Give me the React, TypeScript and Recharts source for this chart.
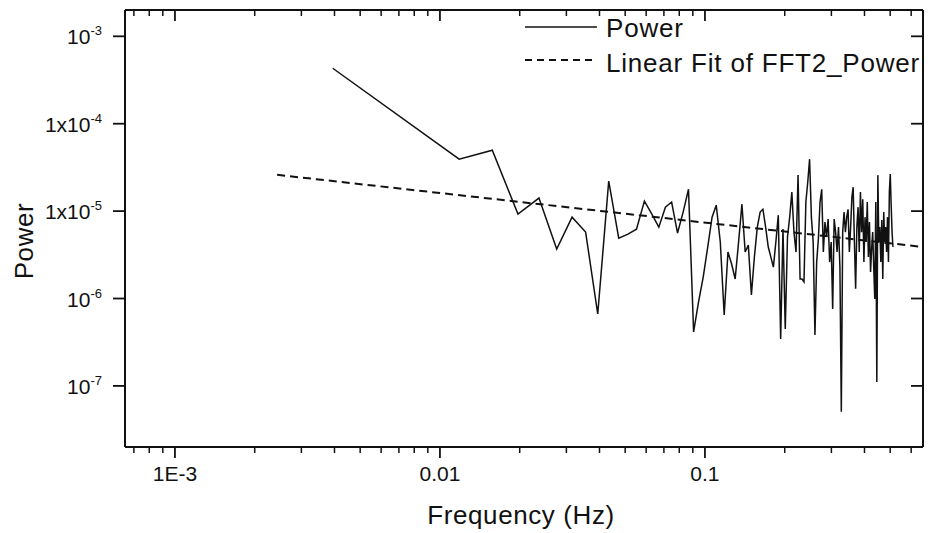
import React from 'react';
import { LineChart, Line, XAxis, YAxis, Legend, Label } from 'recharts';

// FFT bin frequencies (Hz)
const freqs = [
  0.00394, 0.01182, 0.01576, 0.0197, 0.02364, 0.02758, 0.03152, 0.03546, 0.0394,
  0.04334, 0.04728, 0.05122, 0.05516, 0.0591, 0.06304, 0.06698, 0.07092, 0.07486, 0.0788,
  0.08274, 0.08668, 0.09062, 0.09456, 0.0985, 0.10244, 0.10638, 0.11032, 0.11426, 0.1182,
  0.12214, 0.12608, 0.13002, 0.13396, 0.1379, 0.14184, 0.14578, 0.14972, 0.15366, 0.1576,
  0.16154, 0.16548, 0.16942, 0.17336, 0.1773, 0.18124, 0.18518, 0.18912, 0.19306, 0.197,
  0.20094, 0.20488, 0.20882, 0.21276, 0.2167, 0.22064, 0.22458, 0.22852, 0.23246, 0.2364,
  0.24034, 0.24428, 0.24822, 0.25216, 0.2561, 0.26004, 0.26398, 0.26792, 0.27186, 0.2758,
  0.27974, 0.28368, 0.28762, 0.29156, 0.2955, 0.29944, 0.30338, 0.30732, 0.31126, 0.3152,
  0.31914, 0.32308, 0.32702, 0.33096, 0.3349, 0.33884, 0.34278, 0.34672, 0.35066, 0.3546,
  0.35854, 0.36248, 0.36642, 0.37036, 0.3743, 0.37824, 0.38218, 0.38612, 0.39006, 0.394,
  0.39794, 0.40188, 0.40582, 0.40976, 0.4137, 0.41764, 0.42158, 0.42552, 0.42946, 0.4334,
  0.43734, 0.44128, 0.44522, 0.44916, 0.4531, 0.45704, 0.46098, 0.46492, 0.46886, 0.4728,
  0.47674, 0.48068, 0.48462, 0.48856, 0.4925, 0.49644, 0.50038, 0.50432, 0.50826, 0.5122,
];

// Power values
const power = [
  4.31e-4, 3.93e-5, 4.98e-5, 9.25e-6, 1.41e-5, 3.68e-6, 8.53e-6, 5.75e-6, 6.65e-7,
  2.2e-5, 4.91e-6, 5.46e-6, 6.22e-6, 1.3e-5, 9.25e-6, 6.56e-6, 1.11e-5, 1.27e-5, 5.61e-6,
  9.75e-6, 1.78e-5, 4.14e-7, 9.12e-7, 1.76e-6, 3.88e-6, 8.53e-6, 1.17e-5, 4.43e-6, 6.47e-7,
  3.4e-6, 2.48e-6, 1.67e-6, 4.43e-6, 1.2e-5, 3.4e-6, 4.08e-6, 1.1e-6, 2.98e-6, 6.56e-6,
  9.75e-6, 1.05e-5, 6.56e-6, 3.88e-6, 2.98e-6, 2.29e-6, 4.43e-6, 8.99e-6, 3.44e-7, 6.22e-6,
  4.48e-7, 5.05e-6, 8.53e-6, 1.65e-5, 5.75e-6, 3.4e-6, 2.58e-5, 1.67e-6, 1.67e-6, 1.55e-6,
  1.27e-5, 2.14e-5, 3.93e-5, 8.53e-6, 4.43e-6, 3.83e-7, 2.61e-6, 4.79e-6, 1.27e-5, 1.78e-5,
  3.4e-6, 7.48e-6, 5.05e-6, 8.11e-6, 2.61e-6, 4.43e-6, 7.59e-7, 8.11e-6, 5.75e-6, 3.4e-6,
  6.56e-6, 2.29e-6, 5.05e-8, 5.75e-6, 9.75e-6, 5.75e-6, 8.53e-6, 1.05e-5, 3.4e-6, 6.56e-6,
  1.45e-5, 1.88e-5, 4.43e-6, 1.29e-6, 6.56e-6, 1.11e-5, 3.4e-6, 1.65e-5, 5.75e-6, 1.37e-5,
  2.61e-6, 8.53e-6, 4.43e-6, 1.27e-5, 2.98e-6, 7.48e-6, 2.01e-6, 3.68e-6, 5.75e-6, 2.29e-6,
  9.87e-7, 1.27e-5, 1.11e-7, 2.58e-5, 4.43e-6, 6.56e-6, 2.61e-6, 7.89e-6, 1.67e-6, 9.75e-6,
  4.43e-6, 6.56e-6, 3.4e-6, 8.53e-6, 2.61e-6, 1.65e-5, 2.65e-5, 1.17e-5, 5.75e-6, 3.88e-6,
];

// Linear fit endpoints (log-log straight line)
const fitFreqs = [0.00243, 0.66];
const fitPower = [2.6e-5, 3.9e-6];

const xMajorTicks = [0.001, 0.01, 0.1];
const xMajorLabels = ['1E-3', '0.01', '0.1'];
const xMinorTicks = [
  0.0007, 0.0008, 0.0009,
  0.002, 0.003, 0.004, 0.005, 0.006, 0.007, 0.008, 0.009,
  0.02, 0.03, 0.04, 0.05, 0.06, 0.07, 0.08, 0.09,
  0.2, 0.3, 0.4, 0.5, 0.6,
];
const yTicks = [1e-3, 1e-4, 1e-5, 1e-6, 1e-7];
const yTickBase = ['10', '1x10', '1x10', '10', '10'];
const yTickExp = ['-3', '-4', '-5', '-6', '-7'];

const xDomain = [6.48e-4, 0.665];
const yDomain = [2e-8, 2e-3];

const powerData = freqs.map((f, i) => ({ f, p: power[i] }));
const fitData = fitFreqs.map((f, i) => ({ f, p: fitPower[i] }));
const allXTicks = [...xMajorTicks, ...xMinorTicks].sort((a, b) => a - b);

const INK = '#111';
const FONT = '"Liberation Sans", Arial, Helvetica, sans-serif';

const majorIndex = (v: number) => xMajorTicks.findIndex((t) => Math.abs(t - v) / t < 1e-6);

const BottomTick = (props: any) => {
  const { x, y, payload } = props;
  const mi = majorIndex(payload.value);
  if (mi >= 0) {
    return (
      <g>
        <line x1={x} y1={y} x2={x} y2={y + 11} stroke={INK} strokeWidth={1.8} />
        <text x={x} y={y + 34} textAnchor="middle" fontSize={21} fontFamily={FONT} fill={INK}>
          {xMajorLabels[mi]}
        </text>
      </g>
    );
  }
  return <line x1={x} y1={y} x2={x} y2={y + 6} stroke={INK} strokeWidth={1.5} />;
};

const TopTick = (props: any) => {
  const { x, y, payload } = props;
  const mi = majorIndex(payload.value);
  const len = mi >= 0 ? 11 : 6;
  return <line x1={x} y1={y} x2={x} y2={y + len} stroke={INK} strokeWidth={mi >= 0 ? 1.8 : 1.5} />;
};

const LeftTick = (props: any) => {
  const { x, y, index } = props;
  return (
    <g>
      <line x1={x - 12} y1={y} x2={x} y2={y} stroke={INK} strokeWidth={1.8} />
      <text x={x - 23} y={y + 8} textAnchor="end" fontSize={21} fontFamily={FONT} fill={INK}>
        <tspan>{yTickBase[index]}</tspan>
        <tspan dy={-9} fontSize={13}>{yTickExp[index]}</tspan>
      </text>
    </g>
  );
};

const RightTick = (props: any) => {
  const { x, y } = props;
  return <line x1={x - 12} y1={y} x2={x} y2={y} stroke={INK} strokeWidth={1.8} />;
};

const LegendBox = () => (
  <svg width={408} height={80} style={{ display: 'block' }}>
    <line x1={5} y1={19} x2={77} y2={19} stroke={INK} strokeWidth={1.3} />
    <text x={86} y={29} fontSize={26} letterSpacing={0.8} fontFamily={FONT} fill={INK}>Power</text>
    <line x1={5} y1={52} x2={77} y2={52} stroke={INK} strokeWidth={2} strokeDasharray="7 5" />
    <text x={86} y={64} fontSize={26} letterSpacing={0.8} fontFamily={FONT} fill={INK}>Linear Fit of FFT2_Power</text>
  </svg>
);

export default function App() {
  return (
    <div style={{ position: 'absolute', left: 0, top: 0, width: 928, height: 533, background: '#fff' }}>
      <LineChart width={928} height={533} margin={{ top: 9, right: 4, bottom: 0, left: 0 }}>
        <XAxis
          xAxisId="bottom"
          type="number"
          dataKey="f"
          scale="log"
          domain={xDomain}
          allowDataOverflow
          ticks={allXTicks}
          interval={0}
          tick={<BottomTick />}
          tickLine={false}
          tickSize={0}
          tickMargin={0}
          height={86}
          axisLine={{ stroke: INK, strokeWidth: 2 }}
        >
          <Label
            content={() => (
              <text x={521} y={524} textAnchor="middle" fontSize={26} letterSpacing={0.6} fontFamily={FONT} fill={INK}>
                Frequency (Hz)
              </text>
            )}
          />
        </XAxis>
        <XAxis
          xAxisId="top"
          orientation="top"
          type="number"
          dataKey="f"
          scale="log"
          domain={xDomain}
          allowDataOverflow
          ticks={allXTicks}
          interval={0}
          tick={<TopTick />}
          tickLine={false}
          tickSize={0}
          tickMargin={0}
          height={1}
          axisLine={{ stroke: INK, strokeWidth: 2 }}
        />
        <YAxis
          yAxisId="left"
          type="number"
          scale="log"
          domain={yDomain}
          allowDataOverflow
          ticks={yTicks}
          interval={0}
          tick={<LeftTick />}
          tickLine={false}
          tickSize={0}
          tickMargin={0}
          width={125}
          axisLine={{ stroke: INK, strokeWidth: 2 }}
        >
          <Label
            content={() => (
              <text
                x={24}
                y={241}
                transform="rotate(-90 24 241)"
                textAnchor="middle"
                dominantBaseline="central"
                fontSize={26}
                letterSpacing={0.6}
                fontFamily={FONT}
                fill={INK}
              >
                Power
              </text>
            )}
          />
        </YAxis>
        <YAxis
          yAxisId="right"
          orientation="right"
          type="number"
          scale="log"
          domain={yDomain}
          allowDataOverflow
          ticks={yTicks}
          interval={0}
          tick={<RightTick />}
          tickLine={false}
          tickSize={0}
          tickMargin={0}
          width={1}
          axisLine={{ stroke: INK, strokeWidth: 2 }}
        />
        <Legend
          layout="vertical"
          align="center"
          verticalAlign="middle"
          content={() => <LegendBox />}
          wrapperStyle={{ position: 'absolute', left: 520, top: 8, width: 408 }}
        />
        {/* invisible copy of the fit, bound to the mirrored top/right axes so they render */}
        <Line
          xAxisId="top"
          yAxisId="right"
          data={fitData}
          dataKey="p"
          stroke="none"
          strokeWidth={0}
          dot={false}
          legendType="none"
          isAnimationActive={false}
        />
        <Line
          xAxisId="bottom"
          yAxisId="left"
          data={powerData}
          dataKey="p"
          name="Power"
          stroke={INK}
          strokeWidth={1.5}
          strokeLinejoin="miter"
          dot={false}
          isAnimationActive={false}
        />
        <Line
          xAxisId="bottom"
          yAxisId="left"
          data={fitData}
          dataKey="p"
          name="Linear Fit of FFT2_Power"
          stroke={INK}
          strokeWidth={2}
          strokeDasharray="8 5"
          dot={false}
          isAnimationActive={false}
        />
      </LineChart>
    </div>
  );
}
